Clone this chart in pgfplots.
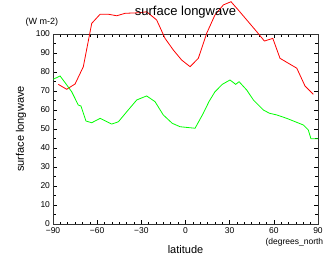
\documentclass[border=0pt]{standalone}
\usepackage{fontspec}
\setmainfont{Liberation Sans}
\usepackage{pgfplots}
\pgfplotsset{compat=1.18}
\begin{document}
\begin{tikzpicture}
\begin{axis}[
  scale only axis, width=265pt, height=190pt,
  xmin=-90, xmax=90, ymin=0, ymax=100,
  xtick={-90,-60,-30,0,30,60,90},
  xticklabels={−90,−60,−30,0,30,60,90},
  ytick={0,10,...,100},
  minor x tick num=5, minor y tick num=1,
  tick align=inside, major tick length=4pt, minor tick length=2.5pt,
  tick style={black, line width=0.6pt},
  axis line style={black!80, line width=0.8pt},
  tick label style={font=\fontsize{8.5}{9}\selectfont},
  /pgf/number format/assume math mode=true,
  xticklabel style={yshift=-0.5pt},
  yticklabel style={xshift=0.5pt},
  clip=false,
]
\addplot[red, line width=0.8pt] coordinates {
(-86.4,73.5) (-80.7,70.9) (-75,73.7) (-69.4,82.8) (-63.7,105.6) (-58,110.4)
(-52.4,110.4) (-46.7,109.6) (-41,110.9) (-30.9,111.2) (-26.4,111.7) (-19.6,107.4)
(-13.9,97.7) (-8.3,91.6) (-2.6,86.3) (3.1,82.8) (8.7,87.2) (14.4,100.4) (20,110)
(25.7,115.3) (30.9,117) (35.9,112.6) (41.6,107.4) (48.4,101.2) (53.6,96.3)
(59.3,97.7) (64.2,87.2) (69.9,84.6) (75.6,82) (81.2,72.6) (86.8,68.3)
};
\addplot[green, line width=0.8pt] coordinates {
(-89.8,76.2) (-85.2,77.9) (-81.8,74.4) (-77.3,69.6) (-72.8,62.6) (-71,62.1)
(-67.6,54.2) (-63.7,53.3) (-58,55.6) (-50.1,52.6) (-45.6,53.8) (-39.9,59.1)
(-33.1,65.3) (-26.4,67.4) (-20.7,64.4) (-15.1,57.4) (-9,53) (-3.7,51.2) (6.5,50.4)
(12.1,58.3) (16,64.5) (20,69.6) (25,73.5) (30.2,75.8) (34.1,73.5) (36.4,74.9)
(41.6,70.5) (46.1,65.3) (52.9,60) (57,58.3) (62,57.4) (68.8,55.6) (80.1,52.1)
(83.4,49.5) (85.2,44.9) (90,44.9)
};
\coordinate (sw) at (rel axis cs:0,0);
\coordinate (ne) at (rel axis cs:1,1);
\end{axis}
\node[font=\fontsize{13}{14}\selectfont] at ([shift={(-132.5pt,22pt)}]ne) {surface longwave};
\node[font=\fontsize{9}{10}\selectfont, anchor=west] at ([shift={(-31pt,12pt)}]sw |- ne) {(W m-2)};
\node[font=\fontsize{11}{12}\selectfont, rotate=90] at ([shift={(-32pt,95pt)}]sw) {surface longwave};
\node[font=\fontsize{11}{12}\selectfont] at ([shift={(132.5pt,-26pt)}]sw) {latitude};
\node[font=\fontsize{8.5}{9}\selectfont, anchor=west] at ([shift={(-56pt,-18pt)}]ne |- sw) {(degrees\_north};
\pgfresetboundingbox
\path ([shift={(-53pt,-42pt)}]sw) rectangle ([shift={(7pt,34pt)}]ne);
\end{tikzpicture}
\end{document}
